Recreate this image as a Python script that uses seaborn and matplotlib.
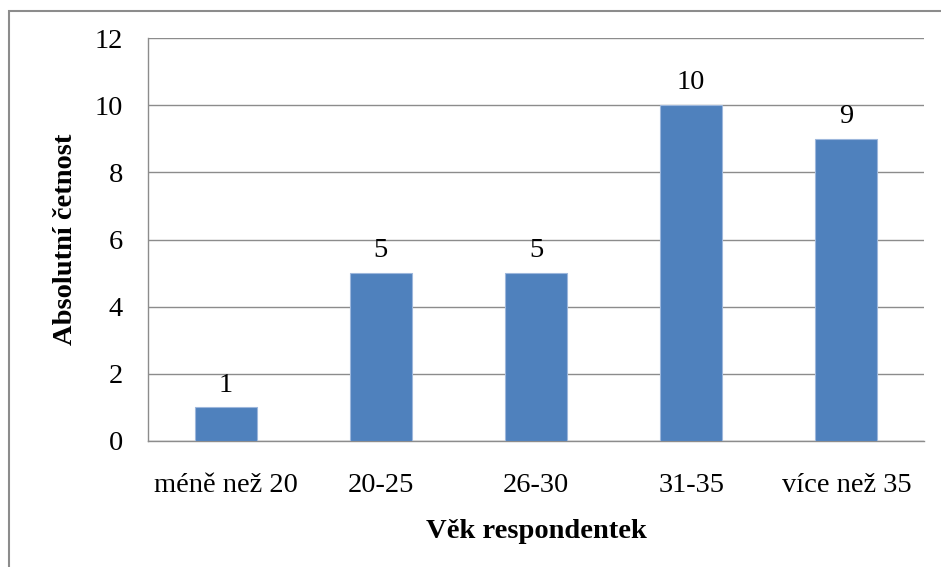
import matplotlib
matplotlib.use("Agg")
import matplotlib.pyplot as plt
import seaborn as sns
import pandas as pd
from matplotlib.patches import Rectangle

# Age groups of respondents and their absolute frequencies
categories = ["méně než 20", "20-25", "26-30", "31-35", "více než 35"]
counts = [1, 5, 5, 10, 9]
y_ticks = [0, 2, 4, 6, 8, 10, 12]

df = pd.DataFrame({"vek": categories, "cetnost": counts})

sns.set_theme(style="white")
plt.rcParams["font.family"] = ["Liberation Serif", "DejaVu Serif"]

FS = 20.5
W, H = 941, 567
fig = plt.figure(figsize=(W / 100, H / 100), dpi=100)
ax = fig.add_axes([148 / W, 1 - 441 / H, (924 - 148) / W, (441 - 38) / H])

sns.barplot(data=df, x="vek", y="cetnost", color="#4F81BD", width=0.4,
            saturation=1, edgecolor="#9DB7DC", linewidth=0.8, ax=ax, zorder=3)

ax.set_ylim(0, 12)
ax.set_yticks(y_ticks)
ax.set_xlim(-0.5, len(categories) - 0.5)
ax.yaxis.grid(True, color="#8C8C8C", linewidth=1.0, zorder=0)
ax.set_axisbelow(True)

for side in ["top", "right"]:
    ax.spines[side].set_visible(False)
for side in ["left", "bottom"]:
    ax.spines[side].set_color("#8C8C8C")
    ax.spines[side].set_linewidth(1.0)

ax.tick_params(axis="both", length=0, labelsize=FS, colors="black")
ax.tick_params(axis="x", pad=23)
ax.tick_params(axis="y", pad=18)

for container in ax.containers:
    ax.bar_label(container, labels=[str(v) for v in counts], padding=7,
                 fontsize=FS, color="black")

ax.set_xlabel("Věk respondentek", fontsize=FS, fontweight="bold",
              labelpad=15, color="black")
ax.set_ylabel("Absolutní četnost", fontsize=FS, fontweight="bold",
              labelpad=12, color="black")

# Chart area frame (left and top edges visible)
fig.patches.append(Rectangle((9 / W, -0.05), 1.1, 1 - 11 / H + 0.05,
                             transform=fig.transFigure, fill=False,
                             edgecolor="#8C8C8C", linewidth=1.5))

fig.savefig("out.png", dpi=100)
